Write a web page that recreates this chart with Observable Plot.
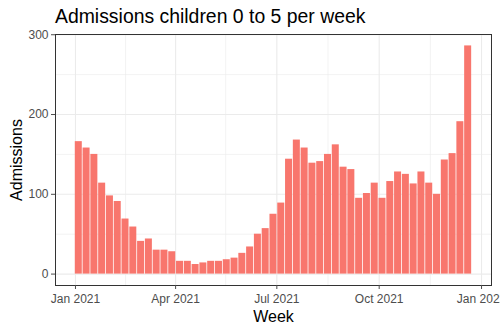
<!DOCTYPE html>
<html>
<head>
<meta charset="utf-8">
<script src="https://cdn.jsdelivr.net/npm/d3@7"></script>
<script src="https://cdn.jsdelivr.net/npm/@observablehq/plot@0.6"></script>
<style>
  html, body { margin: 0; padding: 0; background: #fff; }
  #wrap { width: 500px; height: 333px; overflow: hidden; font-family: "Liberation Sans", Arial, sans-serif; }
  #title { height: 30px; box-sizing: border-box; padding: 7px 0 0 55px; font-size: 19.4px; line-height: 19px; color: #000; white-space: nowrap; }
  #chart svg { overflow: visible; }
</style>
</head>
<body>
<div id="wrap">
  <div id="title">Admissions children 0 to 5 per week</div>
  <div id="chart"></div>
</div>
<script>
const weeks = [
  "2021-01-04","2021-01-11","2021-01-18","2021-01-25",
  "2021-02-01","2021-02-08","2021-02-15","2021-02-22",
  "2021-03-01","2021-03-08","2021-03-15","2021-03-22","2021-03-29",
  "2021-04-05","2021-04-12","2021-04-19","2021-04-26",
  "2021-05-03","2021-05-10","2021-05-17","2021-05-24","2021-05-31",
  "2021-06-07","2021-06-14","2021-06-21","2021-06-28",
  "2021-07-05","2021-07-12","2021-07-19","2021-07-26",
  "2021-08-02","2021-08-09","2021-08-16","2021-08-23","2021-08-30",
  "2021-09-06","2021-09-13","2021-09-20","2021-09-27",
  "2021-10-04","2021-10-11","2021-10-18","2021-10-25",
  "2021-11-01","2021-11-08","2021-11-15","2021-11-22","2021-11-29",
  "2021-12-06","2021-12-13","2021-12-20"
];
const admissions = [
  166, 158, 150, 114, 98, 91, 69, 59, 41, 44, 30, 30, 28,
  16, 16, 12, 14, 16, 16, 18, 20, 26, 34, 50, 57, 75,
  89, 144, 168, 158, 139, 141, 150, 162, 134, 131, 95, 101,
  114, 95, 116, 128, 125, 113, 128, 114, 100, 143, 151, 191, 286
];
const xTicks = ["2021-01-01","2021-04-01","2021-07-01","2021-10-01","2022-01-01"];
const xMinor = ["2021-02-15","2021-05-16","2021-08-16","2021-11-16"];
const yTicks = [0, 100, 200, 300];
const yMinor = [50, 150, 250];

const parse = d3.utcParse("%Y-%m-%d");
const data = weeks.map((w, i) => ({week: parse(w), n: admissions[i]}));
const halfBar = 0.45 * 7 * 24; // hours: 90% of a week

const chart = Plot.plot({
  width: 500,
  height: 303,
  marginTop: 4,
  marginBottom: 48,
  marginLeft: 55,
  marginRight: 9,
  style: {fontFamily: "Liberation Sans, Arial, sans-serif", background: "#fff", overflow: "visible"},
  x: {type: "utc", domain: [new Date(Date.UTC(2020, 11, 14, 1)), new Date(Date.UTC(2022, 0, 9, 23))], label: null},
  y: {domain: [-14.3, 300.3], label: null},
  marks: [
    Plot.gridY(yMinor, {stroke: "#EBEBEB", strokeOpacity: 1, strokeWidth: 0.6}),
    Plot.gridX(xMinor.map(parse), {stroke: "#EBEBEB", strokeOpacity: 1, strokeWidth: 0.6}),
    Plot.gridY(yTicks, {stroke: "#EBEBEB", strokeOpacity: 1, strokeWidth: 1.1}),
    Plot.gridX(xTicks.map(parse), {stroke: "#EBEBEB", strokeOpacity: 1, strokeWidth: 1.1}),
    Plot.rectY(data, {
      x1: d => d3.utcHour.offset(d.week, -halfBar),
      x2: d => d3.utcHour.offset(d.week, halfBar),
      y1: 0,
      y2: "n",
      fill: "#F8766D"
    }),
    Plot.frame({stroke: "#333333", strokeWidth: 1}),
    Plot.axisY({ticks: yTicks, tickSize: 4, tickPadding: 3, fontSize: 12, color: "#4D4D4D", label: null}),
    Plot.axisX({ticks: xTicks.map(parse), tickFormat: d3.utcFormat("%b %Y"), tickSize: 4, tickPadding: 5, fontSize: 12, color: "#4D4D4D", label: null}),
    Plot.text(["Admissions"], {frameAnchor: "left", textAnchor: "middle", lineAnchor: "middle", dx: -38.5, rotate: -90, fontSize: 16, fill: "#000"}),
    Plot.text(["Week"], {frameAnchor: "bottom", textAnchor: "middle", lineAnchor: "middle", dy: 31.4, fontSize: 16, fill: "#000"})
  ]
});
document.getElementById("chart").appendChild(chart);
</script>
</body>
</html>
